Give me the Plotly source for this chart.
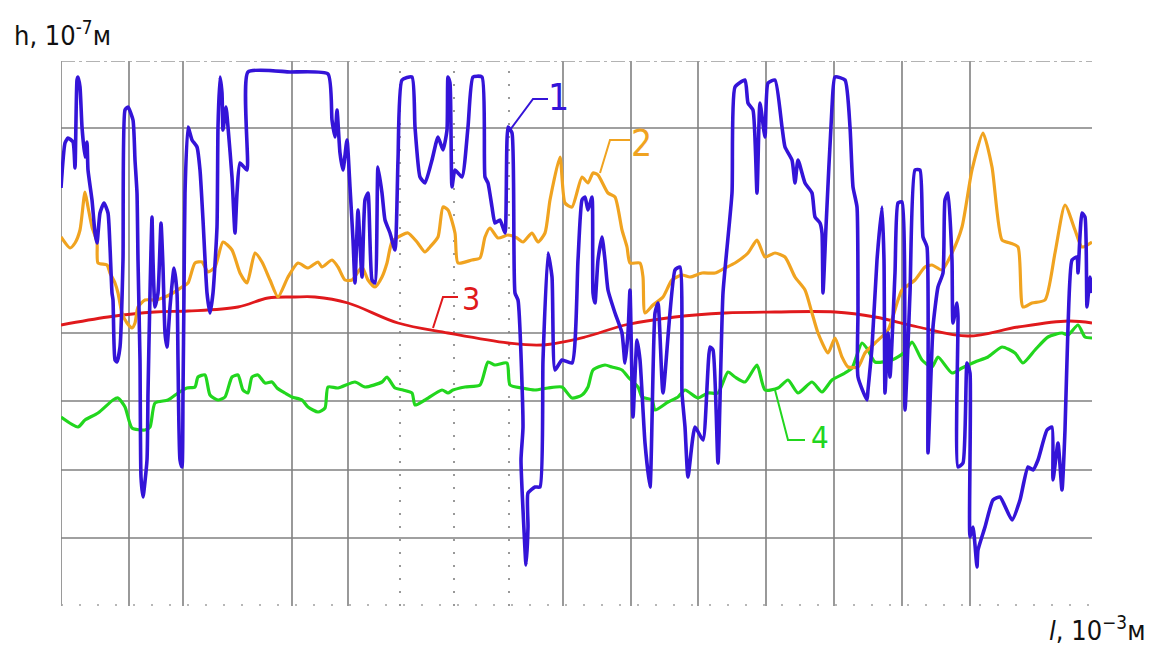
import plotly.graph_objects as go

# ---- data (l: position along trace, h: profile height; arbitrary chart units) ----
blue_l = [0, 4, 7, 12, 14, 16, 17, 19, 21, 24, 26, 27, 31, 34, 36, 39, 43, 47, 49, 51, 52, 54, 56, 59,
          62, 64, 67, 72, 74, 76, 77, 79, 80, 82, 86, 87, 89, 91, 92, 94, 97, 100, 102, 104, 106, 109,
          113, 116, 117, 119, 121, 122, 123, 124, 127, 131, 136, 139, 142, 146, 149, 152, 156, 157, 159,
          161, 162, 165, 167, 171, 174, 176, 179, 186, 187, 229, 267, 271, 274, 276, 279, 282, 286, 289,
          292, 294, 297, 301, 304, 307, 311, 314, 317, 321, 324, 329, 334, 337, 341, 351, 354, 359, 364,
          371, 377, 382, 386, 387, 389, 391, 394, 401, 407, 412, 421, 424, 427, 431, 434, 439, 444, 447,
          451, 454, 457, 462, 460, 463, 465, 467, 467, 474, 479, 482, 487, 491, 494, 501, 511, 517, 521,
          524, 527, 531, 532, 534, 537, 541, 544, 547, 554, 561, 564, 567, 569, 572, 576, 579, 584, 589,
          594, 597, 602, 614, 619, 621, 624, 627, 634, 642, 649, 652, 657, 662, 671, 674, 684, 687, 692,
          696, 699, 704, 707, 714, 721, 724, 731, 734, 737, 744, 751, 754, 759, 761, 762, 765, 771, 774,
          784, 789, 792, 796, 797, 797, 806, 807, 811, 816, 821, 823, 824, 827, 829, 834, 837, 841, 844,
          849, 854, 859, 862, 866, 867, 872, 877, 882, 884, 887, 891, 892, 896, 897, 897, 902, 906, 909,
          909, 912, 916, 917, 924, 932, 939, 951, 959, 967, 972, 977, 986, 991, 992, 997, 1001, 1004,
          1007, 1011, 1016, 1017, 1021, 1024, 1026, 1029, 1031]
blue_h = [145, 190, 195, 191, 165, 253, 256, 246, 206, 176, 191, 163, 133, 100, 90, 120, 130, 120, 86,
          40, 33, -27, -29, -14, 73, 223, 226, 213, 173, 140, 73, -27, -144, -164, -127, -60, 40, 116,
          73, 26, 40, 110, 66, 0, -14, 26, 65, 40, -27, -127, -134, -60, 40, 140, 206, 193, 186, 163,
          113, 40, 20, 40, 106, 206, 256, 240, 203, 226, 206, 156, 100, 140, 170, 163, 261, 261, 259,
          213, 196, 223, 180, 163, 193, 146, 93, 50, 123, 56, 133, 140, 53, 50, 166, 140, 113, 100, 83,
          173, 253, 256, 206, 156, 150, 173, 196, 183, 203, 256, 250, 146, 163, 156, 206, 256, 256, 156,
          150, 126, 110, 113, 100, 206, 200, 40, 33, -94, -127, -197, -232, -194, -160, -154, -154, -27,
          80, 56, -37, -27, -30, 73, 133, 136, 123, 136, 40, 30, 73, 96, 73, 43, 20, 0, -30, 0, 43, -84,
          -7, -27, -110, -154, 20, 30, -60, 63, 66, -60, -94, -144, -94, -107, -14, -17, -130, 40, 140,
          246, 253, 230, 223, 140, 230, 196, 250, 253, 206, 186, 173, 150, 173, 150, 140, 116, 110, 100,
          40, 106, 226, 256, 253, 206, 146, 126, 23, -44, -67, -57, -14, 73, 126, 73, -60, 0, -44, 60,
          130, 131, -77, 40, 163, 163, 96, 86, -120, 6, 46, 60, 133, 140, 73, 10, 30, 16, -134, -130,
          -30, -40, -204, -194, -234, -217, -194, -167, -164, -187, -167, -134, -137, -127, -97, -94,
          -147, -110, -157, -97, 6, 73, 76, 60, 120, 116, 26, 56, 40]

orange_l = [0, 9, 14, 19, 24, 27, 31, 36, 37, 46, 49, 54, 57, 61, 66, 71, 74, 77, 84, 94, 104, 112, 121,
            127, 134, 141, 147, 154, 162, 171, 179, 186, 194, 201, 209, 217, 227, 237, 247, 257, 261, 271,
            277, 284, 291, 301, 307, 314, 321, 326, 331, 341, 347, 356, 364, 369, 377, 382, 387, 394, 397,
            411, 419, 424, 429, 437, 447, 456, 462, 471, 477, 484, 489, 499, 504, 511, 521, 527, 532, 537,
            547, 554, 561, 566, 569, 579, 582, 584, 592, 602, 611, 621, 629, 641, 654, 664, 674, 687, 696,
            704, 714, 724, 734, 744, 751, 757, 767, 774, 781, 787, 797, 804, 814, 827, 837, 841, 854, 864,
            871, 881, 891, 901, 911, 922, 931, 941, 949, 957, 962, 971, 984, 994, 1004, 1014, 1021, 1031]
orange_h = [96, 85, 90, 103, 141, 126, 106, 91, 70, 68, 60, 50, 40, 20, 10, 5, 10, 26, 33, 33, 36, 40, 46,
            50, 70, 71, 61, 66, 91, 83, 60, 50, 80, 71, 53, 36, 56, 70, 65, 71, 66, 73, 66, 53, 53, 66, 53,
            46, 56, 70, 91, 98, 100, 91, 81, 86, 96, 126, 123, 100, 70, 73, 75, 96, 105, 95, 98, 95, 91,
            100, 91, 100, 133, 176, 130, 126, 156, 150, 160, 158, 140, 136, 103, 86, 70, 70, 56, 20, 28, 36,
            53, 58, 56, 60, 60, 65, 70, 80, 93, 76, 80, 76, 56, 43, 20, 0, -20, -5, -24, -34, -34, -20, -10,
            3, 33, 43, 53, 66, 68, 63, 80, 106, 163, 200, 166, 93, 90, 86, 26, 30, 33, 80, 128, 103, 86, 91]

red_l = [0, 47, 94, 127, 177, 207, 234, 254, 287, 337, 387, 447, 481, 524, 564, 614, 664, 714, 774, 814,
         857, 907, 957, 1007, 1031]
red_h = [8, 16, 21, 22, 26, 35, 36, 36, 30, 10, 0, -10, -12, -4, 8, 16, 20, 21, 21, 16, 6, -3, 6, 12, 10]

green_l = [0, 17, 24, 37, 52, 57, 64, 71, 84, 89, 94, 107, 117, 126, 134, 137, 144, 149, 157, 164, 171,
           177, 182, 187, 191, 197, 204, 211, 216, 224, 231, 241, 247, 257, 264, 267, 277, 294, 304, 321,
           326, 334, 342, 351, 354, 364, 381, 387, 392, 404, 419, 427, 434, 446, 449, 461, 474, 487, 501,
           511, 521, 527, 532, 544, 551, 561, 567, 577, 581, 591, 594, 607, 617, 624, 637, 647, 657, 667,
           674, 684, 696, 704, 717, 727, 737, 751, 761, 771, 784, 791, 801, 807, 814, 831, 844, 851, 861,
           871, 877, 891, 901, 914, 927, 941, 954, 962, 974, 987, 1001, 1007, 1017, 1024, 1031]
green_h = [-84, -94, -87, -80, -67, -65, -74, -95, -97, -94, -70, -67, -60, -55, -54, -44, -42, -62, -67,
           -64, -44, -42, -57, -60, -44, -42, -50, -49, -55, -60, -64, -67, -74, -79, -75, -54, -55, -49,
           -54, -49, -44, -55, -57, -60, -72, -67, -57, -60, -57, -54, -52, -29, -32, -30, -52, -55, -57,
           -55, -54, -65, -62, -54, -37, -32, -34, -37, -44, -54, -64, -67, -77, -69, -64, -57, -65, -60,
           -60, -39, -44, -49, -32, -57, -55, -47, -60, -49, -59, -47, -40, -35, -10, -17, -29, -27, -19,
           -9, -27, -34, -24, -40, -35, -29, -24, -14, -20, -30, -17, -4, 0, -2, 8, -4, -5]

curve_names = ["1", "2", "3", "4"]

# grid positions (chart units)
grid_l_solid = [0, 68, 122, 231, 287, 502, 570, 637, 705, 773, 841, 909]
grid_l_dotted = [339, 393, 448]
grid_h_solid = [205, 0, -68, -137, -205]

L_MAX = 1031
H_MIN, H_MAX = -273, 272

BLUE = "#3414d8"
ORANGE = "#f0a320"
RED = "#e0191c"
GREEN = "#22d61e"
GRID = "#808080"

fig = go.Figure()

fig.add_trace(go.Scatter(x=red_l, y=red_h, mode="lines", name="3",
                         line=dict(color=RED, width=2.8, shape="spline", smoothing=1.0)))
fig.add_trace(go.Scatter(x=green_l, y=green_h, mode="lines", name="4",
                         line=dict(color=GREEN, width=3.2, shape="spline", smoothing=0.6)))
fig.add_trace(go.Scatter(x=orange_l, y=orange_h, mode="lines", name="2",
                         line=dict(color=ORANGE, width=3.2, shape="spline", smoothing=0.6)))
fig.add_trace(go.Scatter(x=blue_l, y=blue_h, mode="lines", name="1",
                         line=dict(color=BLUE, width=3.6, shape="spline", smoothing=0.5)))

shapes = []
for v in grid_l_solid:
    shapes.append(dict(type="line", xref="x", yref="y", x0=v, x1=v, y0=H_MIN, y1=H_MAX,
                       line=dict(color=GRID, width=1.6), layer="below"))
for v in grid_l_dotted:
    shapes.append(dict(type="line", xref="x", yref="y", x0=v, x1=v, y0=H_MIN, y1=H_MAX,
                       line=dict(color=GRID, width=1.6, dash="2px,11px"), layer="below"))
for v in grid_h_solid:
    shapes.append(dict(type="line", xref="x", yref="y", x0=0, x1=L_MAX, y0=v, y1=v,
                       line=dict(color=GRID, width=1.6), layer="below"))
# top and bottom borders
shapes.append(dict(type="line", xref="x", yref="y", x0=0, x1=L_MAX, y0=H_MAX, y1=H_MAX,
                   line=dict(color="#9a9a9a", width=1.4, dash="14px,4px,3px,4px"), layer="below"))
shapes.append(dict(type="line", xref="x", yref="y", x0=0, x1=L_MAX, y0=H_MIN + 1, y1=H_MIN + 1,
                   line=dict(color="#a0a0a0", width=1.4, dash="2px,16px"), layer="below"))

# leader lines for curve labels
leaders = [
    ([449, 472, 487], [203, 234, 234], BLUE),
    ([539, 549, 569], [160, 193, 193], ORANGE),
    ([372, 382, 397], [5, 36, 36], RED),
    ([714, 727, 744], [-57, -107, -107], GREEN),
]
for xs, ys, col in leaders:
    path = "M {} {} L {} {} L {} {}".format(xs[0], ys[0], xs[1], ys[1], xs[2], ys[2])
    shapes.append(dict(type="path", xref="x", yref="y", path=path,
                       line=dict(color=col, width=2)))

NARROW = "Liberation Sans Narrow, Arial Narrow, DejaVu Sans Condensed, sans-serif"

annotations = []
label_pos = [(497, 236, BLUE, 37), (580, 190, ORANGE, 37), (410, 34, RED, 32), (759, -104, GREEN, 31)]
for name, (lx, ly, col, sz) in zip(curve_names, label_pos):
    annotations.append(dict(x=lx, y=ly, xref="x", yref="y", text=name, showarrow=False,
                            font=dict(family=NARROW, size=sz, color=col),
                            xanchor="center", yanchor="middle"))

annotations.append(dict(x=-0.0475, y=1.05, xref="paper", yref="paper",
                        text="h, 10<sup>-7</sup>м", showarrow=False,
                        font=dict(family=NARROW, size=27, color="#111111"),
                        xanchor="left", yanchor="middle"))
annotations.append(dict(x=1.0535, y=-0.042, xref="paper", yref="paper",
                        text="<i>l</i>, 10<sup>−3</sup>м", showarrow=False,
                        font=dict(family=NARROW, size=27, color="#111111"),
                        xanchor="right", yanchor="middle"))

# page body has an 8px margin, so the figure is sized/offset to keep the plot area in place
fig.update_layout(
    width=1145, height=638,
    margin=dict(l=53, r=61, t=53, b=40),
    paper_bgcolor="white", plot_bgcolor="white",
    showlegend=False,
    shapes=shapes,
    annotations=annotations,
    xaxis=dict(range=[0, L_MAX], showgrid=False, zeroline=False, showticklabels=False,
               ticks="", showline=False, fixedrange=True),
    yaxis=dict(range=[H_MIN, H_MAX], showgrid=False, zeroline=False, showticklabels=False,
               ticks="", showline=False, fixedrange=True),
)

fig.write_html("out.html")
